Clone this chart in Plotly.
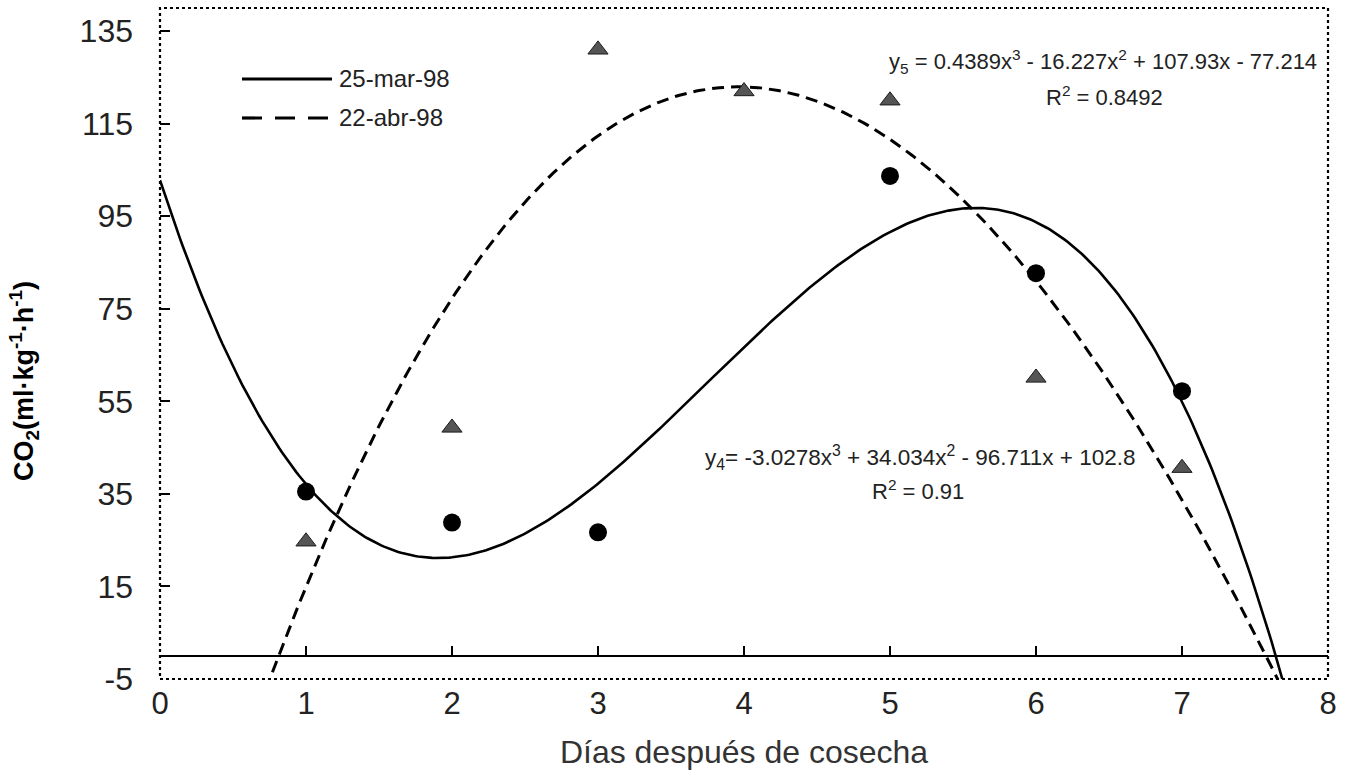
import numpy as np
import plotly.graph_objects as go

# ---------------- data ----------------
days = [1, 2, 3, 4, 5, 6, 7]
# 25-mar-98 (circles); no observation at day 4
mar_days = [1, 2, 3, 5, 6, 7]
mar_co2 = [35.5, 28.8, 26.7, 103.7, 82.7, 57.2]
# 22-abr-98 (triangles)
abr_days = [1, 2, 3, 4, 5, 6, 7]
abr_co2 = [24.7, 49.3, 131.0, 122.0, 120.0, 60.1, 40.6]

# cubic fit coefficients printed on the chart (a3, a2, a1, a0)
coef_y4 = [-3.0278, 34.034, -96.711, 102.8]   # 25-mar-98
coef_y5 = [0.4389, -16.227, 107.93, -77.214]  # 22-abr-98
fit_range_y4 = [0.0, 7.75]
fit_range_y5 = [0.77, 7.75]

x_ticks = [0, 1, 2, 3, 4, 5, 6, 7, 8]
y_ticks = [-5, 15, 35, 55, 75, 95, 115, 135]
y_ticktext = ["-5", "15", "35", "55", "75", "95", "115", "135"]

FONT = "Liberation Sans, Arial, Helvetica, sans-serif"

xs4 = np.linspace(fit_range_y4[0], fit_range_y4[1], 400)
xs5 = np.linspace(fit_range_y5[0], fit_range_y5[1], 400)
ys4 = np.polyval(coef_y4, xs4)
ys5 = np.polyval(coef_y5, xs5)

fig = go.Figure()

fig.add_trace(go.Scatter(x=xs4, y=ys4, mode="lines",
                         line=dict(color="black", width=2.6),
                         showlegend=False, hoverinfo="skip"))
fig.add_trace(go.Scatter(x=xs5, y=ys5, mode="lines",
                         line=dict(color="black", width=3, dash="12px,7px"),
                         showlegend=False, hoverinfo="skip"))
fig.add_trace(go.Scatter(x=mar_days, y=mar_co2, mode="markers",
                         marker=dict(symbol="circle", size=18, color="black"),
                         showlegend=False))
fig.add_trace(go.Scatter(x=abr_days, y=abr_co2, mode="markers",
                         marker=dict(symbol="triangle-up", size=17.5, color="#555555",
                                     line=dict(color="#1a1a1a", width=1)),
                         showlegend=False))
# invisible helper trace to host the tick axis drawn on y = 0
fig.add_trace(go.Scatter(x=days, y=[0] * len(days), xaxis="x2", mode="markers",
                         marker=dict(opacity=0), showlegend=False, hoverinfo="skip"))

fig.update_layout(
    width=1348, height=776,
    margin=dict(l=160, r=20, t=8, b=97),
    paper_bgcolor="white", plot_bgcolor="white",
    font=dict(family=FONT, color="#222222"),
    xaxis=dict(range=[0, 8], tickvals=x_ticks, ticks="", showgrid=False,
               zeroline=False, showline=False,
               tickfont=dict(size=31, color="#222222"),
               ticklabelstandoff=3,
               title=dict(text="Días después de cosecha",
                          font=dict(size=32, color="#333333"), standoff=20)),
    xaxis2=dict(range=[0, 8], overlaying="x", anchor="free",
                position=5 / 145, tickvals=days, ticks="inside", ticklen=10,
                tickwidth=1.5, tickcolor="black", showticklabels=False,
                showgrid=False, zeroline=False, showline=False, side="bottom"),
    yaxis=dict(range=[-5, 140], tickvals=y_ticks, ticktext=y_ticktext,
               ticks="inside", ticklen=10,
               tickwidth=1.5, tickcolor="black", showgrid=False,
               zeroline=True, zerolinecolor="black", zerolinewidth=1.5,
               showline=False, tickfont=dict(size=32, color="#222222"),
               ticklabelstandoff=26),
)

# plot frame (dotted, as in the scan)
fig.add_shape(type="rect", xref="paper", yref="paper", x0=0, y0=0, x1=1, y1=1,
              line=dict(color="black", width=2.2, dash="dot"), layer="above")

# legend drawn by hand (long line samples as in the original)
def px_x(p):
    return (p - 160) / 1168

def px_y(p):
    return (679 - p) / 671

fig.add_shape(type="line", xref="paper", yref="paper",
              x0=px_x(242), x1=px_x(332), y0=px_y(79), y1=px_y(79),
              line=dict(color="black", width=3))
fig.add_shape(type="line", xref="paper", yref="paper",
              x0=px_x(242), x1=px_x(332), y0=px_y(118), y1=px_y(118),
              line=dict(color="black", width=3.2, dash="20px,13px"))
fig.add_annotation(xref="paper", yref="paper", x=px_x(337), y=px_y(79),
                   text="25-mar-98", showarrow=False, xanchor="left",
                   yanchor="middle", font=dict(size=24, color="#222222"))
fig.add_annotation(xref="paper", yref="paper", x=px_x(337), y=px_y(118),
                   text="22-abr-98", showarrow=False, xanchor="left",
                   yanchor="middle", font=dict(size=24, color="#222222"))

# equations
fig.add_annotation(xref="paper", yref="paper", x=px_x(1103), y=px_y(61),
                   text="y<sub>5</sub> = 0.4389x<sup>3</sup> - 16.227x<sup>2</sup> + 107.93x - 77.214",
                   showarrow=False, xanchor="center", yanchor="middle",
                   font=dict(size=22, color="#222222"))
fig.add_annotation(xref="paper", yref="paper", x=px_x(1104), y=px_y(96),
                   text="R<sup>2</sup> = 0.8492",
                   showarrow=False, xanchor="center", yanchor="middle",
                   font=dict(size=22, color="#222222"))
fig.add_annotation(xref="paper", yref="paper", x=px_x(920), y=px_y(457),
                   text="y<sub>4</sub>= -3.0278x<sup>3</sup> + 34.034x<sup>2</sup> - 96.711x + 102.8",
                   showarrow=False, xanchor="center", yanchor="middle",
                   font=dict(size=22.5, color="#222222"))
fig.add_annotation(xref="paper", yref="paper", x=px_x(918), y=px_y(490),
                   text="R<sup>2</sup> = 0.91",
                   showarrow=False, xanchor="center", yanchor="middle",
                   font=dict(size=22, color="#222222"))

# y-axis title (bold)
fig.add_annotation(xref="paper", yref="paper", x=px_x(24), y=px_y(381),
                   text="<b>CO<sub>2</sub>(ml·kg<sup>-1</sup>·h<sup>-1</sup>)</b>",
                   showarrow=False, textangle=-90, xanchor="center",
                   yanchor="middle", font=dict(size=27, color="black"))

fig.write_html("out.html")
